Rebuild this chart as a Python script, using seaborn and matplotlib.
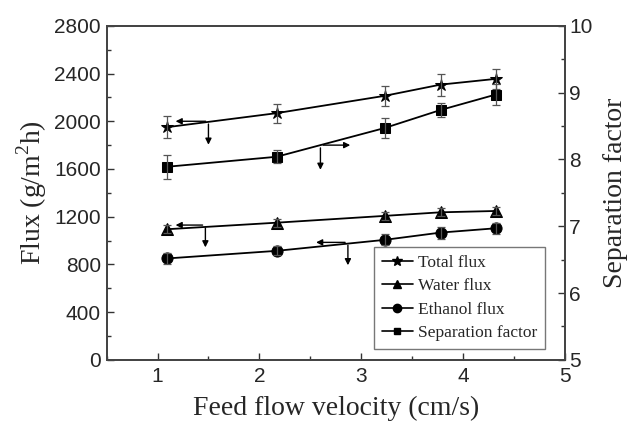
import numpy as np
import pandas as pd
import matplotlib
matplotlib.use("Agg")
import matplotlib.pyplot as plt
from matplotlib.lines import Line2D
from matplotlib.ticker import MultipleLocator
import seaborn as sns

# data
velocity = [1.09, 2.17, 3.23, 3.78, 4.32]
total_flux = [1950, 2068, 2213, 2307, 2355]
total_err = [90, 80, 85, 93, 85]
water_flux = [1095, 1150, 1207, 1237, 1248]
water_err = [32, 32, 32, 32, 30]
ethanol_flux = [850, 914, 1006, 1067, 1103]
ethanol_err = [48, 38, 45, 50, 48]
sep_factor = [7.89, 8.04, 8.47, 8.74, 8.97]
sep_err = [0.18, 0.10, 0.15, 0.11, 0.16]

# axis-pointer arrows (corner x, corner y, horizontal end x, vertical end y)
pointers = [
    (1.50, 2000, 1.15, 1780),
    (2.60, 1800, 2.92, 1570),
    (1.47, 1130, 1.15, 920),
    (2.87, 985, 2.53, 770),
]

sns.set_style("ticks")
plt.rcParams["font.family"] = ["Liberation Sans", "DejaVu Sans"]
plt.rcParams["xtick.direction"] = "in"
plt.rcParams["ytick.direction"] = "in"
plt.rcParams["mathtext.fontset"] = "custom"
plt.rcParams["mathtext.rm"] = "Liberation Serif"

df = pd.DataFrame({"v": velocity, "total": total_flux, "water": water_flux,
                   "ethanol": ethanol_flux, "sep": sep_factor})

fig = plt.figure(figsize=(6.31, 4.30), dpi=100)
ax = fig.add_axes([0.169, 0.163, 0.726, 0.777])
ax2 = ax.twinx()

kw = dict(color="black", linewidth=1.3, markersize=8, markeredgecolor="black")
sns.lineplot(data=df, x="v", y="total", marker="*", ax=ax, markersize=9,
             color="black", linewidth=1.3, markeredgecolor="black")
sns.lineplot(data=df, x="v", y="water", marker="^", ax=ax, **kw)
sns.lineplot(data=df, x="v", y="ethanol", marker="o", ax=ax, **kw)
sns.lineplot(data=df, x="v", y="sep", marker="s", ax=ax2, markersize=7,
             color="black", linewidth=1.3, markeredgecolor="black")

eb = dict(fmt="none", ecolor="#555555", elinewidth=0.9, capsize=3, capthick=0.9)
ax.errorbar(velocity, total_flux, yerr=total_err, **eb)
ax.errorbar(velocity, water_flux, yerr=water_err, **eb)
ax.errorbar(velocity, ethanol_flux, yerr=ethanol_err, **eb)
ax2.errorbar(velocity, sep_factor, yerr=sep_err, **eb)

ax.set_xlim(0.5, 5)
ax.set_ylim(0, 2800)
ax2.set_ylim(5, 10)
ax.xaxis.set_major_locator(MultipleLocator(1))
ax.xaxis.set_minor_locator(MultipleLocator(0.5))
ax.yaxis.set_major_locator(MultipleLocator(400))
ax.yaxis.set_minor_locator(MultipleLocator(200))
ax2.yaxis.set_major_locator(MultipleLocator(1))
ax2.yaxis.set_minor_locator(MultipleLocator(0.5))

for a in (ax, ax2):
    a.tick_params(which="major", length=5, width=1.0, labelsize=15, color="#333333")
    a.tick_params(which="minor", length=3, width=1.0, color="#333333")
    for s in a.spines.values():
        s.set_linewidth(1.3)
        s.set_color("#444444")
ax.tick_params(axis="x", pad=5)
ax.tick_params(axis="y", pad=4)
ax2.tick_params(axis="y", pad=3)

serif = ["Liberation Serif"]
ax.set_xlabel("Feed flow velocity (cm/s)", family=serif, fontsize=20, labelpad=7)
ax.set_ylabel("Flux (g/m$^2$h)", family=serif, fontsize=20, labelpad=4)
ax2.set_ylabel("Separation factor", family=serif, fontsize=20, labelpad=8)

# pointer arrows
for cx, cy, hx, vy in pointers:
    ap = dict(arrowstyle="-|>", color="black", lw=1.0, mutation_scale=9)
    ax.annotate("", xy=(hx, cy), xytext=(cx, cy), arrowprops=ap)
    ax.annotate("", xy=(cx, vy), xytext=(cx, cy), arrowprops=ap)

handles = [
    Line2D([], [], color="black", marker="*", markersize=7, lw=1.2),
    Line2D([], [], color="black", marker="^", markersize=6, lw=1.2),
    Line2D([], [], color="black", marker="o", markersize=6, lw=1.2),
    Line2D([], [], color="black", marker="s", markersize=5, lw=1.2),
]
labels = ["Total flux", "Water flux", "Ethanol flux", "Separation factor"]
leg = ax2.legend(handles, labels, loc="lower right", bbox_to_anchor=(0.957, 0.033),
                 borderaxespad=0, prop={"family": "Liberation Serif", "size": 12.5},
                 frameon=True, fancybox=False, edgecolor="#777777", framealpha=1,
                 handlelength=1.8, handletextpad=0.3, labelspacing=0.42, borderpad=0.45)
leg.get_frame().set_linewidth(1.0)

fig.savefig("out.png", dpi=100)
